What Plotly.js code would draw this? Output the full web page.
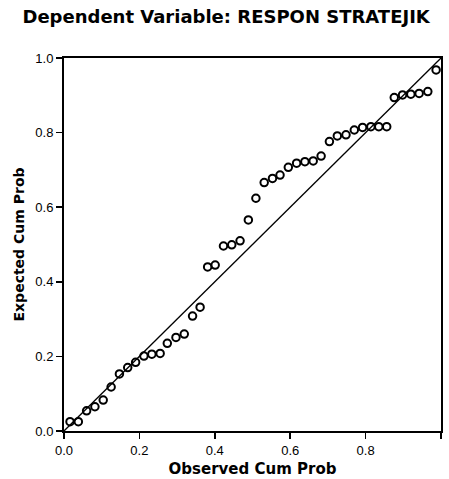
<!DOCTYPE html>
<html>
<head>
<meta charset="utf-8">
<script src="https://cdn.plot.ly/plotly-3.0.1.min.js"></script>
<style>html,body{margin:0;padding:0;background:#fff;}#chart{width:449px;height:479px;}</style>
</head>
<body>
<div id="chart"></div>
<script>
var observedCumProb = [0.016,0.038,0.060,0.082,0.104,0.125,0.147,0.169,0.190,0.212,0.233,0.255,0.274,0.297,0.319,0.341,0.361,0.381,0.401,0.423,0.445,0.467,0.489,0.509,0.531,0.553,0.573,0.595,0.617,0.639,0.661,0.682,0.704,0.725,0.748,0.770,0.792,0.814,0.835,0.856,0.876,0.898,0.920,0.942,0.965,0.987];
var expectedCumProb = [0.025,0.025,0.054,0.065,0.083,0.118,0.153,0.170,0.184,0.201,0.206,0.208,0.235,0.251,0.260,0.308,0.332,0.440,0.445,0.496,0.499,0.510,0.566,0.624,0.666,0.677,0.686,0.707,0.718,0.722,0.724,0.737,0.776,0.791,0.794,0.807,0.814,0.816,0.816,0.816,0.894,0.901,0.903,0.905,0.910,0.968];
var refLine = [0, 1];
var tickVals = [0, 0.2, 0.4, 0.6, 0.8, 1.0];
var tickText = ["0.0", "0.2", "0.4", "0.6", "0.8", "1.0"];
var chartTitle = "Dependent Variable: RESPON STRATEJIK";
var xTitle = "Observed Cum Prob";
var yTitle = "Expected Cum Prob";

var traces = [
  {x: refLine, y: refLine, mode: "lines", line: {color: "#000", width: 1.3}, hoverinfo: "skip", showlegend: false},
  {x: observedCumProb, y: expectedCumProb, mode: "markers",
   marker: {symbol: "circle-open", size: 7.5, color: "#000", line: {width: 2, color: "#000"}}, showlegend: false}
];
var tickFamily = "Liberation Sans, Arial, sans-serif";
var titleFamily = "DejaVu Sans, sans-serif";
var axisBase = {range: [0, 1], tickvals: tickVals, ticktext: tickText, ticks: "outside", ticklen: 6, tickwidth: 1.5,
  tickcolor: "#000", showline: true, linecolor: "#000", linewidth: 2, mirror: true, showgrid: false, zeroline: false,
  tickfont: {family: tickFamily, size: 13, color: "#000"}, fixedrange: true};
var layout = {
  width: 449, height: 479,
  margin: {l: 64, r: 8, t: 58, b: 48},
  paper_bgcolor: "#fff", plot_bgcolor: "#fff",
  title: {text: "<b>" + chartTitle + "</b>", font: {family: titleFamily, size: 18, color: "#000"}, x: 0.05, xanchor: "left", y: 0.966, yanchor: "middle"},
  xaxis: Object.assign({}, axisBase, {title: {text: "<b>" + xTitle + "</b>", font: {family: titleFamily, size: 15, color: "#000"}, standoff: 7}}),
  yaxis: Object.assign({}, axisBase, {title: {text: "<b>" + yTitle + "</b>", font: {family: titleFamily, size: 14, color: "#000"}, standoff: 7}}),
  showlegend: false
};
Plotly.newPlot("chart", traces, layout, {staticPlot: true, displayModeBar: false});
</script>
</body>
</html>
